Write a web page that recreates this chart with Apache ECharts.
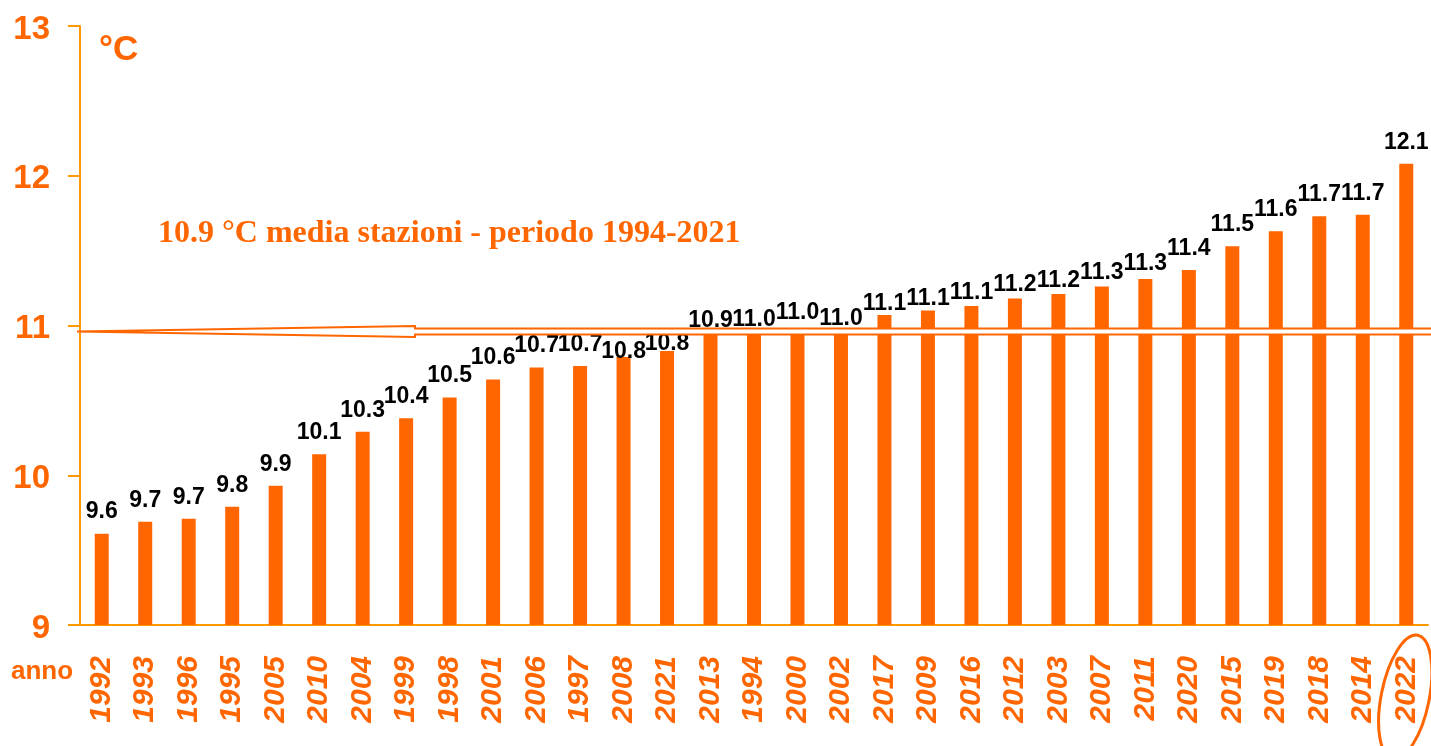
<!DOCTYPE html>
<html>
<head>
<meta charset="utf-8">
<script src="https://cdn.jsdelivr.net/npm/echarts@6/dist/echarts.min.js"></script>
<style>
  html, body { margin: 0; padding: 0; background: #fff; }
  #main { width: 1431px; height: 746px; }
</style>
</head>
<body>
<div id="main"></div>
<script>
// anni ordinati per temperatura media
const years = ['1992','1993','1996','1995','2005','2010','2004','1999','1998','2001',
  '2006','1997','2008','2021','2013','1994','2000','2002','2017','2009',
  '2016','2012','2003','2007','2011','2020','2015','2019','2018','2014','2022'];
const temps = [9.61, 9.69, 9.71, 9.79, 9.93, 10.14, 10.29, 10.38, 10.52, 10.64,
  10.72, 10.73, 10.79, 10.83, 10.94, 10.96, 10.98, 10.97, 11.07, 11.10,
  11.13, 11.18, 11.21, 11.26, 11.31, 11.37, 11.53, 11.63, 11.73, 11.74, 12.08];
const yTicks = [9, 10, 11, 12, 13];
const meanValue = 10.96;
const meanText = '10.9 °C media stazioni - periodo 1994-2021';
const highlightYear = '2022';

// etichette più vicine alla barra (zona della linea media)
const labelDist = {
    '2008': -6, '2021': -4, '2013': 2, '1994': 0, '2000': 4, '2002': 0,
    '2017': 0, '2009': 0, '2016': 2, '2012': 2, '2003': 2, '2007': 2, '2011': 4
};

const ORANGE = '#ff6600';
const AXIS = '#ff9900';
const SANS = '"Liberation Sans", Arial, sans-serif';

let myChart = echarts.init(document.getElementById('main'));

myChart.setOption({
    animation: false,
    grid: { left: 80, right: 3, top: 26, bottom: 121 },
    xAxis: {
        type: 'category',
        data: years,
        axisLine: { lineStyle: { color: AXIS, width: 2 } },
        axisTick: { length: 10, lineStyle: { color: AXIS, width: 2 } },
        axisLabel: {
            interval: 0, rotate: 90, margin: 31,
            color: ORANGE, fontFamily: SANS, fontSize: 30,
            fontWeight: 'bold', fontStyle: 'italic'
        }
    },
    yAxis: {
        type: 'value',
        min: yTicks[0], max: yTicks[yTicks.length - 1], interval: 1,
        axisLine: { show: true, lineStyle: { color: AXIS, width: 2 } },
        axisTick: { show: true, length: 12, lineStyle: { color: AXIS, width: 2 } },
        splitLine: { show: false },
        axisLabel: {
            margin: 30,
            formatter: v => '{t|' + v + '}',
            rich: {
                t: {
                    color: ORANGE, fontFamily: SANS, fontSize: 33,
                    fontWeight: 'bold', padding: [7, 0, 0, 0]
                }
            }
        }
    },
    series: [
        {
            type: 'bar',
            data: temps.map((v, i) => labelDist[years[i]] !== undefined
                ? { value: v, label: { distance: labelDist[years[i]] } }
                : v),
            barWidth: 14,
            z: 2,
            itemStyle: { color: ORANGE },
            label: {
                show: true, position: 'top', distance: 10,
                color: '#000', fontFamily: SANS, fontSize: 23, fontWeight: 'bold',
                formatter: p => p.value.toFixed(1)
            }
        },
        {
            // linea della media: freccia vuota
            type: 'custom',
            z: 5,
            silent: true,
            data: [[0, meanValue]],
            encode: { x: 0, y: 1 },
            renderItem: function (params, api) {
                const cs = params.coordSys;
                const yc = api.coord([0, meanValue])[1];
                const x0 = cs.x - 3;
                const xw = cs.x + cs.width * 0.2485;
                const xe = cs.x + cs.width + 20;
                return {
                    type: 'polygon',
                    shape: {
                        points: [
                            [x0, yc], [xw, yc - 5.5], [xw, yc - 3], [xe, yc - 3],
                            [xe, yc + 3], [xw, yc + 3], [xw, yc + 5.5]
                        ]
                    },
                    style: { fill: '#fff', stroke: ORANGE, lineWidth: 2 }
                };
            }
        }
    ]
});

const cx = myChart.convertToPixel({ xAxisIndex: 0 }, highlightYear);
const yBase = myChart.convertToPixel({ yAxisIndex: 0 }, yTicks[0]);

myChart.setOption({
    graphic: [
        {
            type: 'text', left: 99, top: 33,
            style: { text: '°C', fill: ORANGE, font: 'bold 35px ' + SANS }
        },
        {
            type: 'text', left: 11, top: 659,
            style: { text: 'anno', fill: ORANGE, font: 'bold 26px ' + SANS }
        },
        {
            type: 'text', left: 158, top: 218,
            style: { text: meanText, fill: ORANGE, font: 'bold 32px "Liberation Serif", "Times New Roman", serif' }
        },
        {
            type: 'ellipse',
            x: cx - 1, y: yBase + 72,
            rotation: -0.2,
            shape: { cx: 0, cy: 0, rx: 24, ry: 63 },
            style: { fill: null, stroke: ORANGE, lineWidth: 3 }
        }
    ]
});
</script>
</body>
</html>
